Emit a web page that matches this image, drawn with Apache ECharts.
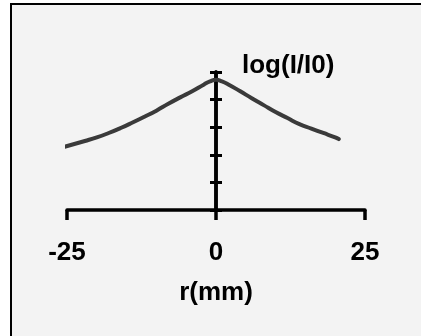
<!DOCTYPE html>
<html>
<head>
<meta charset="utf-8">
<script src="https://cdn.jsdelivr.net/npm/echarts@6/dist/echarts.min.js"></script>
<style>
    html, body { margin: 0; padding: 0; background: #fff; }
    #main { width: 421px; height: 336px; }
</style>
</head>
<body>
<div id="main"></div>
<script>
// radial position (mm) and log(I/I0)
var r_mm = [-25.4, -22, -20, -18, -16, -14, -12, -10, -8, -6, -4, -2, -1, 0, 1, 2, 4, 6, 8, 10, 12, 14, 16, 18, 20, 20.6];
var log_i = [2.29, 2.5, 2.63, 2.79, 2.97, 3.17, 3.38, 3.6, 3.85, 4.08, 4.3, 4.55, 4.66, 4.72, 4.66, 4.56, 4.31, 4.05, 3.8, 3.55, 3.33, 3.11, 2.95, 2.79, 2.63, 2.57];
var x_ticks = [-25, 0, 25];

var line_data = [];
for (var i = 0; i < r_mm.length; i++) {
    line_data.push([r_mm[i], log_i[i]]);
}

var font = '"Liberation Sans", Arial, sans-serif';
var chart = echarts.init(document.getElementById('main'));

// two copies of the y axis share x = 0 so the ticks stick out on both sides
var y_axis_base = {
    type: 'value',
    min: 0,
    max: 5,
    interval: 1,
    splitLine: { show: false },
    axisLabel: { show: false },
    axisLine: { show: true, onZero: true, onZeroAxisIndex: 0, lineStyle: { color: '#000', width: 3.5 } },
    axisTick: { show: true, length: 6, lineStyle: { color: '#000', width: 3 } }
};

var option = {
    animation: false,
    backgroundColor: '#fff',
    graphic: [{
        type: 'rect',
        z: -10,
        silent: true,
        shape: { x: 11, y: 4, width: 420, height: 340 },
        style: { fill: '#f3f3f3', stroke: '#000', lineWidth: 2 }
    }],
    grid: {
        left: 67,
        right: 56,
        top: 72,
        bottom: 126
    },
    xAxis: {
        type: 'value',
        min: x_ticks[0],
        max: x_ticks[x_ticks.length - 1],
        interval: 25,
        name: 'r(mm)',
        nameLocation: 'middle',
        nameGap: 70,
        nameTextStyle: { color: '#000', fontFamily: font, fontWeight: 'bold', fontSize: 26 },
        splitLine: { show: false },
        axisLine: { show: true, lineStyle: { color: '#000', width: 3.5 } },
        axisTick: { show: true, length: 10, lineStyle: { color: '#000', width: 3.5 } },
        axisLabel: { color: '#000', fontFamily: font, fontWeight: 'bold', fontSize: 26, margin: 30 }
    },
    yAxis: [
        echarts.util.merge({
            position: 'left',
            name: 'log(I/I0)',
            nameLocation: 'end',
            nameGap: 6,
            nameTextStyle: {
                color: '#000', fontFamily: font, fontWeight: 'bold', fontSize: 26,
                align: 'left', verticalAlign: 'middle', padding: [0, 0, 0, 26]
            }
        }, y_axis_base, true),
        echarts.util.merge({ position: 'right' }, y_axis_base, true)
    ],
    series: [{
        type: 'line',
        data: line_data,
        smooth: 0.5,
        showSymbol: false,
        symbol: 'none',
        lineStyle: { color: '#3a3a3a', width: 4, cap: 'round' }
    }]
};

chart.setOption(option);
</script>
</body>
</html>
